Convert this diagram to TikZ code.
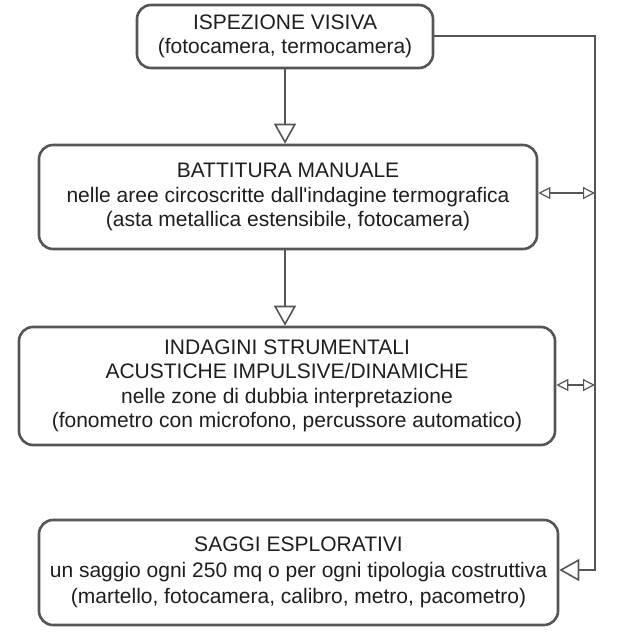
\documentclass[tikz,border=0pt]{standalone}
\usepackage{fontspec}
\setmainfont{Liberation Sans}
\usetikzlibrary{arrows.meta}
\definecolor{linegray}{HTML}{555555}
\definecolor{textgray}{HTML}{1E1E1E}
\tikzset{
  box/.style={draw=linegray, line width=2.6pt, rounded corners=14pt, align=center,
    text=textgray, inner sep=0pt, font=\fontsize{21}{24.5}\selectfont},
  flow/.style={draw=linegray, line width=2.6pt},
  bigtip/.style={-{Triangle[fill=white, width=22pt, length=20pt, line width=1.6pt]}},
  smalltip/.style={{Triangle[fill=white, width=12pt, length=12pt, line width=1.2pt]}-{Triangle[fill=white, width=12pt, length=12pt, line width=1.2pt]}},
}
\begin{document}
\begin{tikzpicture}[x=1pt, y=-1pt]
\useasboundingbox (0,0) rectangle (618,642);
\node[box, minimum width=296pt, minimum height=63pt] (b1) at (285,36.5)
  {ISPEZIONE VISIVA\\(fotocamera, termocamera)};
\node[box, minimum width=498pt, minimum height=104pt] (b2) at (288,197)
  {BATTITURA MANUALE\\nelle aree circoscritte dall\textquotesingle indagine termografica\\(asta metallica estensibile, fotocamera)};
\node[box, minimum width=536pt, minimum height=118pt] (b3) at (287,386)
  {INDAGINI STRUMENTALI\\ACUSTICHE IMPULSIVE/DINAMICHE\\nelle zone di dubbia interpretazione\\(fonometro con microfono, percussore automatico)};
\node[box, minimum width=519pt, minimum height=105pt, font=\fontsize{21}{26}\selectfont] (b4) at (298.5,572.5)
  {SAGGI ESPLORATIVI\\un saggio ogni 250 mq o per ogni tipologia costruttiva\\(martello, fotocamera, calibro, metro, pacometro)};
\coordinate (rtop) at (595,36);
\coordinate (r2) at (595,193);
\coordinate (r3) at (595,385);
\coordinate (rbot) at (595,570);
\draw[flow, bigtip] (b1.south) -- (b1.south |- b2.north);
\draw[flow, bigtip] (b1.south |- b2.south) -- (b1.south |- b3.north);
\draw[flow, bigtip] (b1.east |- rtop) -- (rtop) -- (rbot) -- (b4.east |- rbot);
\draw[draw=linegray, line width=1.4pt, smalltip] (b2.east |- r2) -- (r2);
\draw[draw=linegray, line width=1.4pt, smalltip] (b3.east |- r3) -- (r3);
\end{tikzpicture}
\end{document}
